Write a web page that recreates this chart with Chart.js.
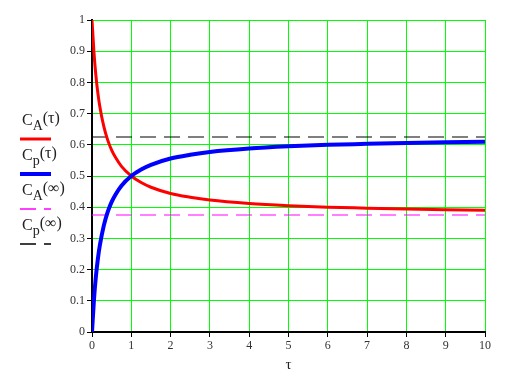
<!DOCTYPE html>
<html>
<head>
<meta charset="utf-8">
<script src="https://cdn.jsdelivr.net/npm/chart.js@4/dist/chart.umd.min.js"></script>
<style>
  html, body { margin: 0; padding: 0; background: #fff; }
  #wrap { width: 514px; height: 371px; }
</style>
</head>
<body>
<div id="wrap"><canvas id="plot"></canvas></div>
<script>
// values
const tau = [0, 0.05, 0.1, 0.15, 0.2, 0.3, 0.4, 0.5, 0.6, 0.75, 1, 1.25, 1.5, 2, 2.5, 3, 4, 5, 6, 7, 8, 9, 10];
const cA  = [1.0, 0.896, 0.821, 0.765, 0.722, 0.659, 0.615, 0.583, 0.559, 0.531, 0.500, 0.479, 0.464, 0.444, 0.432, 0.423, 0.412, 0.405, 0.400, 0.397, 0.394, 0.392, 0.390];
const cP  = [0.0, 0.104, 0.179, 0.235, 0.278, 0.341, 0.385, 0.417, 0.441, 0.469, 0.500, 0.521, 0.536, 0.556, 0.568, 0.577, 0.588, 0.595, 0.600, 0.603, 0.606, 0.608, 0.610];
const cAInf = 0.375;
const cPInf = 0.625;

const xTicks = [0, 1, 2, 3, 4, 5, 6, 7, 8, 9, 10];
const xTickLabels = ['0', '1', '2', '3', '4', '5', '6', '7', '8', '9', '10'];
const yTicks = [0, 0.1, 0.2, 0.3, 0.4, 0.5, 0.6, 0.7, 0.8, 0.9, 1];
const yTickLabels = ['0', '0.1', '0.2', '0.3', '0.4', '0.5', '0.6', '0.7', '0.8', '0.9', '1'];

const serif = 'Liberation Serif';

function pts(xs, ys) {
  return xs.map((x, i) => ({ x: x, y: ys[i] }));
}
function flat(v) {
  return [{ x: xTicks[0], y: v }, { x: xTicks[xTicks.length - 1], y: v }];
}

// legend entries (Mathcad style, drawn by hand to get subscripts)
const legendItems = [
  { sub: 'A', arg: 'τ', color: '#ff0000', width: 3, dash: [] },
  { sub: 'p', arg: 'τ', color: '#0000ff', width: 4, dash: [] },
  { sub: 'A', arg: '∞', color: '#ff00ff', width: 1.5, dash: [16, 8] },
  { sub: 'p', arg: '∞', color: '#000000', width: 1.5, dash: [16, 8] }
];

const sideLegend = {
  id: 'sideLegend',
  afterDraw(chart) {
    const ctx = chart.ctx;
    ctx.save();
    legendItems.forEach((it, i) => {
      const lineY = 139 + i * 35;
      const baseY = lineY - 14;
      let x = 22;
      ctx.fillStyle = '#222';
      ctx.textBaseline = 'alphabetic';
      ctx.textAlign = 'left';
      ctx.font = '16px "' + serif + '"';
      ctx.fillText('C', x, baseY);
      x += ctx.measureText('C').width;
      ctx.font = '14px "' + serif + '"';
      ctx.fillText(it.sub, x, baseY + 5);
      x += ctx.measureText(it.sub).width;
      ctx.font = '16px "' + serif + '"';
      ctx.fillText('(' + it.arg + ')', x, baseY - 2);

      ctx.beginPath();
      ctx.strokeStyle = it.color;
      ctx.lineWidth = it.width;
      ctx.setLineDash(it.dash);
      ctx.moveTo(20, lineY);
      ctx.lineTo(51, lineY);
      ctx.stroke();
      ctx.setLineDash([]);
    });
    ctx.restore();
  }
};

const ctx = document.getElementById('plot').getContext('2d');
const chart = new Chart(ctx, {
  type: 'line',
  data: {
    datasets: [{
      label: 'Cp(τ)',
      data: pts(tau, cP),
      borderColor: '#0000ff',
      borderWidth: 4,
      pointRadius: 0,
      cubicInterpolationMode: 'monotone'
    }, {
      label: 'CA(τ)',
      data: pts(tau, cA),
      borderColor: '#ff0000',
      borderWidth: 3,
      pointRadius: 0,
      cubicInterpolationMode: 'monotone'
    }, {
      label: 'Cp(∞)',
      data: flat(cPInf),
      borderColor: '#000000',
      borderWidth: 1.2,
      borderDash: [16, 8],
      pointRadius: 0
    }, {
      label: 'CA(∞)',
      data: flat(cAInf),
      borderColor: '#ff00ff',
      borderWidth: 1.2,
      borderDash: [16, 8],
      pointRadius: 0
    }]
  },
  options: {
    responsive: true,
    maintainAspectRatio: false,
    animation: false,
    layout: {
      padding: { top: 20, right: 29, left: 0, bottom: 0 }
    },
    plugins: {
      legend: { display: false },
      tooltip: { enabled: false }
    },
    scales: {
      x: {
        type: 'linear',
        min: 0,
        max: 10,
        afterBuildTicks: s => { s.ticks = xTicks.map(v => ({ value: v })); },
        afterFit: s => { s.height = 39; },
        grid: {
          color: '#00ff00',
          lineWidth: 1,
          tickColor: '#000',
          tickLength: 5
        },
        border: { color: '#000', width: 2 },
        ticks: {
          color: '#333',
          padding: 2,
          maxRotation: 0,
          font: { family: serif, size: 12 },
          callback: (v, i) => xTickLabels[i]
        },
        title: {
          display: true,
          text: 'τ',
          color: '#222',
          font: { family: serif, size: 15 },
          padding: { top: 0, bottom: -3 }
        }
      },
      y: {
        min: 0,
        max: 1,
        afterBuildTicks: s => { s.ticks = yTicks.map(v => ({ value: v })); },
        afterFit: s => { s.width = 92; },
        grid: {
          color: '#00ff00',
          lineWidth: 1,
          tickColor: '#000',
          tickLength: 5
        },
        border: { color: '#000', width: 2 },
        ticks: {
          color: '#333',
          padding: 2,
          font: { family: serif, size: 12 },
          callback: (v, i) => yTickLabels[i]
        }
      }
    }
  },
  plugins: [sideLegend]
});
</script>
</body>
</html>
